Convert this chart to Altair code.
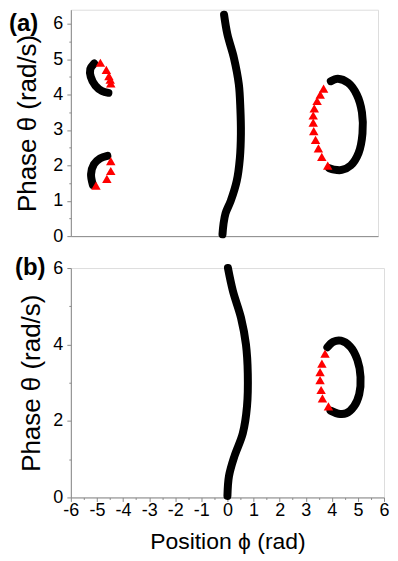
import altair as alt
import pandas as pd

# ---------------- data ----------------
# Panel (a)
a_line_phi = [0.00, 0.04, 0.12, 0.32, 0.55, 0.67, 0.71, 0.69, 0.63, 0.44, 0.19, 0.06]
a_line_theta = [0.05, 0.35, 0.65, 1.00, 1.56, 2.20, 2.90, 3.60, 4.29, 5.04, 5.70, 6.26]

a_ring_phi = [4.18, 4.45, 4.85, 5.18, 5.38, 5.40, 5.25, 4.95, 4.60, 4.30, 4.12]
a_ring_theta = [4.38, 4.45, 4.33, 4.00, 3.50, 2.90, 2.35, 2.00, 1.87, 1.88, 1.92]
a_ring_tri_phi = [3.90, 3.77, 3.65, 3.54, 3.50, 3.50, 3.52, 3.59, 3.70, 3.83, 4.06]
a_ring_tri_theta = [4.17, 4.00, 3.82, 3.61, 3.41, 3.21, 2.97, 2.72, 2.48, 2.24, 1.99]

a_up_phi = [-4.40, -4.65, -4.90, -5.08, -5.10, -4.95]
a_up_theta = [4.05, 4.10, 4.25, 4.50, 4.72, 4.88]
a_up_tri_phi = [-4.71, -4.48, -4.38, -4.33, -4.31]
a_up_tri_theta = [4.90, 4.70, 4.52, 4.42, 4.32]

a_lo_phi = [-5.00, -5.07, -4.96, -4.72, -4.44]
a_lo_theta = [1.45, 1.75, 2.03, 2.20, 2.27]
a_lo_tri_phi = [-4.88, -4.46, -4.31, -4.31]
a_lo_tri_theta = [1.43, 1.62, 1.84, 2.12]

# Panel (b)
b_line_phi = [0.00, 0.06, 0.27, 0.59, 0.75, 0.78, 0.71, 0.52, 0.21, 0.02]
b_line_theta = [0.04, 0.56, 1.08, 1.68, 2.38, 3.24, 4.00, 4.70, 5.40, 6.00]

b_ring_phi = [3.83, 4.05, 4.35, 4.70, 4.98, 5.10, 5.05, 4.85, 4.55, 4.25, 3.95]
b_ring_theta = [3.93, 4.07, 4.10, 3.95, 3.60, 3.15, 2.70, 2.38, 2.20, 2.19, 2.27]
b_tri_phi = [3.74, 3.62, 3.55, 3.55, 3.59, 3.64, 3.87]
b_tri_theta = [3.76, 3.50, 3.28, 3.07, 2.81, 2.59, 2.38]

# axis ticks
a_y_major = [0, 1, 2, 3, 4, 5, 6]
a_y_minor = [0.5, 1.5, 2.5, 3.5, 4.5, 5.5]
b_y_major = [0, 2, 4, 6]
b_y_minor = [1, 3, 5]
b_x_major = [-6, -5, -4, -3, -2, -1, 0, 1, 2, 3, 4, 5, 6]
b_x_minor = [-5.5, -4.5, -3.5, -2.5, -1.5, -0.5, 0.5, 1.5, 2.5, 3.5, 4.5, 5.5]

FONT = "Liberation Sans"
GRAY = "#8a8a8a"
LABEL_EXPR = "'' + datum.value"


def curves(pairs):
    rows = []
    for name, (xs, ys) in pairs.items():
        for i, (x, y) in enumerate(zip(xs, ys)):
            rows.append({"series": name, "order": i, "phi": x, "theta": y})
    return pd.DataFrame(rows)


def points(pairs):
    rows = []
    for xs, ys in pairs:
        for x, y in zip(xs, ys):
            rows.append({"phi": x, "theta": y})
    return pd.DataFrame(rows)


def panel(lines_df, tri_df, xdom, ydom, w, h, ymaj, ymin, xmaj, xmin,
          show_x, label, lab_x, lab_y, y_title_pad):
    xs = alt.Scale(domain=xdom, nice=False, zero=False)
    ys = alt.Scale(domain=ydom, nice=False, zero=False)

    if show_x:
        x_axis_major = alt.Axis(values=xmaj, labelExpr=LABEL_EXPR, tickSize=4, tickColor=GRAY,
                                domainColor=GRAY, labelFont=FONT, labelFontSize=18,
                                labelColor="black", labelPadding=0, grid=False,
                                title="Position ϕ (rad)", titleFont=FONT, titleFontSize=23,
                                titleFontWeight="normal", titleColor="black", titlePadding=11,
                                labelFlush=False, labelOverlap=False)
        x_axis_minor = alt.Axis(values=xmin, tickSize=2, tickColor=GRAY, domain=False,
                                labels=False, grid=False, title=None, orient="bottom")
    else:
        x_axis_major = alt.Axis(labels=False, ticks=False, domainColor=GRAY, grid=False, title=None)
        x_axis_minor = None

    y_axis_major = alt.Axis(values=ymaj, labelExpr=LABEL_EXPR, tickSize=4, tickColor=GRAY,
                            domainColor=GRAY, labelFont=FONT, labelFontSize=18,
                            labelColor="black", labelPadding=4, grid=False,
                            title="Phase θ (rad/s)", titleFont=FONT, titleFontSize=26,
                            titleFontWeight="normal", titleColor="black",
                            titlePadding=y_title_pad, labelFlush=False)
    y_axis_minor = alt.Axis(values=ymin, tickSize=2, tickColor=GRAY, domain=False,
                            labels=False, grid=False, title=None, orient="left")

    line = alt.Chart(lines_df).mark_line(
        color="black", strokeWidth=8, strokeCap="round", strokeJoin="round",
        interpolate="catmull-rom"
    ).encode(
        x=alt.X("phi:Q", scale=xs, axis=x_axis_major),
        y=alt.Y("theta:Q", scale=ys, axis=y_axis_major),
        detail="series:N",
        order="order:Q",
    )
    tri = alt.Chart(tri_df).mark_point(
        shape="triangle-up", filled=True, color="#ff0000", opacity=1, size=90
    ).encode(
        x=alt.X("phi:Q", scale=xs, axis=x_axis_minor),
        y=alt.Y("theta:Q", scale=ys, axis=y_axis_minor),
    )
    lab = alt.Chart(pd.DataFrame({"t": [label]})).mark_text(
        font=FONT, fontSize=24, fontWeight="bold", align="left", baseline="middle",
        color="black"
    ).encode(text="t:N", x=alt.value(lab_x), y=alt.value(lab_y))

    return alt.layer(line, tri, lab).resolve_axis(
        x="independent", y="independent"
    ).properties(width=w, height=h)


lines_a = curves({
    "center": (a_line_phi, a_line_theta),
    "ring": (a_ring_phi, a_ring_theta),
    "up": (a_up_phi, a_up_theta),
    "lo": (a_lo_phi, a_lo_theta),
})
tri_a = points([(a_ring_tri_phi, a_ring_tri_theta), (a_up_tri_phi, a_up_tri_theta),
                (a_lo_tri_phi, a_lo_tri_theta)])

lines_b = curves({
    "center": (b_line_phi, b_line_theta),
    "ring": (b_ring_phi, b_ring_theta),
})
tri_b = points([(b_tri_phi, b_tri_theta)])

pa = panel(lines_a, tri_a, [-5.85, 6], [0, 6.4], 308, 227, a_y_major, a_y_minor,
           None, None, False, "(a)", -62, 14, 12)
pb = panel(lines_b, tri_b, [-6, 6], [0, 6], 314, 230, b_y_major, b_y_minor,
           b_x_major, b_x_minor, True, "(b)", -56, 0, 8)

chart = alt.concat(pa, pb, columns=1, spacing=9, align="none").properties(
    padding={"left": 0, "top": 0, "right": 0, "bottom": 0}
).configure_view(stroke=GRAY, strokeWidth=1, fill="white").configure(background="white")

chart.save("out.html", embed_options={"renderer": "svg", "actions": False})
